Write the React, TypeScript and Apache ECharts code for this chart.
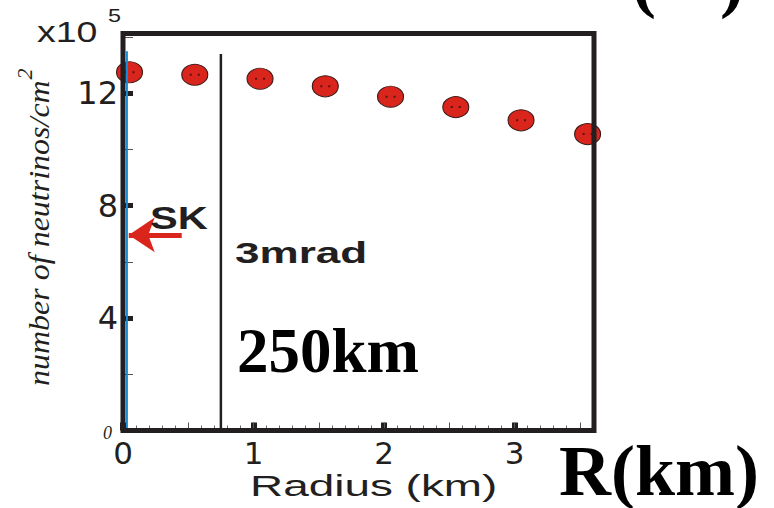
import React, { useEffect, useRef } from "react";
import * as echarts from "echarts";

// ---- data ----
const radiusKm = [0.05, 0.55, 1.05, 1.55, 2.05, 2.55, 3.05, 3.56];
const neutrinoFlux = [12.75, 12.66, 12.52, 12.25, 11.88, 11.51, 11.04, 10.55]; // x10^5 per cm^2
const beamEdgeLine = [
  [0.75, 0],
  [0.75, 13.4],
];
const centerLine = [
  [0.03, 0],
  [0.03, 13.5],
];
const skArrow = [
  [0.45, 6.96],
  [0.044, 6.96],
];
const xMax = 3.609;
const yMax = 14.13;

const INK = "#231f20";
const RED = "#d9251c";
const BLUE = "#1a8ad4";

export default function App() {
  const ref = useRef<HTMLDivElement>(null);

  useEffect(() => {
    document.body.style.margin = "0";
    if (!ref.current) return;
    const chart = echarts.init(ref.current, null, { renderer: "svg" });

    const pts = radiusKm.map((x, i) => [x, neutrinoFlux[i]]);

    const option: any = {
      animation: false,
      backgroundColor: "#ffffff",
      grid: {
        left: 123,
        top: 33.5,
        width: 471,
        height: 397,
        show: true,
        borderColor: INK,
        borderWidth: 5,
        backgroundColor: "transparent",
        containLabel: false,
        outerBoundsMode: "none",
        z: 5,
      },
      xAxis: [
        {
          type: "value",
          min: 0,
          max: xMax,
          interval: 1,
          axisLine: { show: false },
          splitLine: { show: false },
          axisTick: {
            show: true,
            inside: true,
            length: 8,
            lineStyle: { color: INK, width: 6 },
          },
          axisLabel: {
            show: true,
            margin: 7,
            showMaxLabel: false,
            fontFamily: "DejaVu Sans",
            fontSize: 31,
            color: INK,
            formatter: (v: number) => (Number.isInteger(v) ? String(v) : ""),
          },
        },
        {
          type: "value",
          min: 0,
          max: xMax,
          interval: 0.5,
          position: "bottom",
          axisLine: { show: false },
          splitLine: { show: false },
          axisLabel: { show: false },
          axisTick: {
            show: true,
            inside: true,
            length: 8,
            lineStyle: { color: "#555", width: 1 },
          },
          minorTick: {
            show: true,
            splitNumber: 5,
            length: 5,
            lineStyle: { color: "#666", width: 1 },
          },
        },
      ],
      yAxis: {
        type: "value",
        min: 0,
        max: yMax,
        interval: 4,
        axisLine: { show: false },
        splitLine: { show: false },
        axisTick: {
          show: true,
          inside: true,
          length: 10,
          lineStyle: { color: INK, width: 5 },
        },
        minorTick: {
          show: true,
          splitNumber: 2,
          length: 10,
          lineStyle: { color: "#555", width: 1 },
        },
        axisLabel: {
          show: true,
          margin: 5,
          showMaxLabel: false,
          fontFamily: "DejaVu Sans",
          fontSize: 32,
          color: INK,
          formatter: (v: number) => (v === 0 ? "{z|0}" : String(v)),
          rich: {
            z: {
              fontFamily: "Liberation Serif",
              fontStyle: "italic",
              fontSize: 18,
              color: INK,
              padding: [4, 6, 0, 0],
            },
          },
        },
      },
      series: [
        {
          type: "scatter",
          data: pts,
          symbol: "circle",
          symbolSize: [26, 21],
          itemStyle: { color: RED, opacity: 1, borderColor: "#3a1a18", borderWidth: 1 },
          z: 2,
          silent: true,
        },
        {
          type: "scatter",
          data: pts,
          symbol: "path://M0 0h2v2h-2zM8 0h2v2h-2z",
          symbolSize: [10, 2],
          symbolKeepAspect: false,
          itemStyle: { color: "#5a1410", opacity: 1 },
          z: 2,
          silent: true,
        },
        {
          type: "line",
          data: beamEdgeLine,
          symbol: "none",
          lineStyle: { color: INK, width: 2.5 },
          z: 3,
          silent: true,
        },
        {
          type: "line",
          data: centerLine,
          symbol: "none",
          lineStyle: { color: BLUE, width: 2 },
          z: 3,
          silent: true,
          markLine: {
            silent: true,
            symbol: ["none", "arrow"],
            symbolSize: [26, 26],
            label: { show: false },
            lineStyle: { color: RED, width: 5, type: "solid", opacity: 1 },
            itemStyle: { color: RED },
            emphasis: { disabled: true },
            data: [[{ coord: skArrow[0] }, { coord: skArrow[1] }]],
          },
        },
      ],
      graphic: [
        {
          type: "text",
          x: 37,
          y: 31,
          scaleX: 1.25,
          style: {
            text: "x10",
            fontFamily: "Liberation Sans",
            fontSize: 30,
            fill: INK,
            align: "left",
            verticalAlign: "middle",
          },
        },
        {
          type: "text",
          x: 108,
          y: 16,
          scaleX: 1.3,
          style: {
            text: "5",
            fontFamily: "Liberation Sans",
            fontSize: 18,
            fill: INK,
            align: "left",
            verticalAlign: "middle",
          },
        },
        {
          type: "text",
          x: 40,
          y: 386,
          rotation: Math.PI / 2,
          scaleY: 0.9,
          style: {
            text: "number of neutrinos/cm",
            fontFamily: "Liberation Serif",
            fontStyle: "italic",
            fontSize: 32,
            fill: INK,
            align: "left",
            verticalAlign: "middle",
          },
        },
        {
          type: "text",
          x: 24,
          y: 74,
          rotation: Math.PI / 2,
          style: {
            text: "2",
            fontFamily: "Liberation Serif",
            fontStyle: "italic",
            fontSize: 22,
            fill: INK,
            align: "center",
            verticalAlign: "middle",
          },
        },
        {
          type: "text",
          x: 150,
          y: 218,
          scaleX: 1.3,
          z: 10,
          style: {
            text: "SK",
            fontFamily: "Liberation Sans",
            fontWeight: "bold",
            fontSize: 32,
            fill: INK,
            align: "left",
            verticalAlign: "middle",
          },
        },
        {
          type: "text",
          x: 235,
          y: 253,
          scaleX: 1.52,
          z: 10,
          style: {
            text: "3mrad",
            fontFamily: "Liberation Sans",
            fontWeight: "bold",
            fontSize: 29,
            fill: INK,
            align: "left",
            verticalAlign: "middle",
          },
        },
        {
          type: "text",
          x: 237,
          y: 351,
          z: 10,
          style: {
            text: "250km",
            fontFamily: "Liberation Serif",
            fontWeight: "bold",
            fontSize: 63,
            fill: "#000",
            align: "left",
            verticalAlign: "middle",
          },
        },
        {
          type: "text",
          x: 250,
          y: 486,
          scaleX: 1.53,
          style: {
            text: "Radius (km)",
            fontFamily: "Liberation Sans",
            fontSize: 30,
            fill: INK,
            align: "left",
            verticalAlign: "middle",
          },
        },
        {
          type: "text",
          x: 559,
          y: 471,
          style: {
            text: "R(km)",
            fontFamily: "Liberation Serif",
            fontWeight: "bold",
            fontSize: 72,
            fill: "#000",
            align: "left",
            verticalAlign: "middle",
          },
        },
        {
          type: "text",
          x: 632,
          y: 16,
          style: {
            text: "(",
            fontFamily: "Liberation Serif",
            fontWeight: "bold",
            fontSize: 72,
            fill: "#000",
            align: "left",
            verticalAlign: "bottom",
          },
        },
        {
          type: "text",
          x: 720,
          y: 16,
          style: {
            text: ")",
            fontFamily: "Liberation Serif",
            fontWeight: "bold",
            fontSize: 72,
            fill: "#000",
            align: "left",
            verticalAlign: "bottom",
          },
        },
      ],
    };

    chart.setOption(option);
    return () => chart.dispose();
  }, []);

  return <div ref={ref} style={{ width: 774, height: 508 }} />;
}
